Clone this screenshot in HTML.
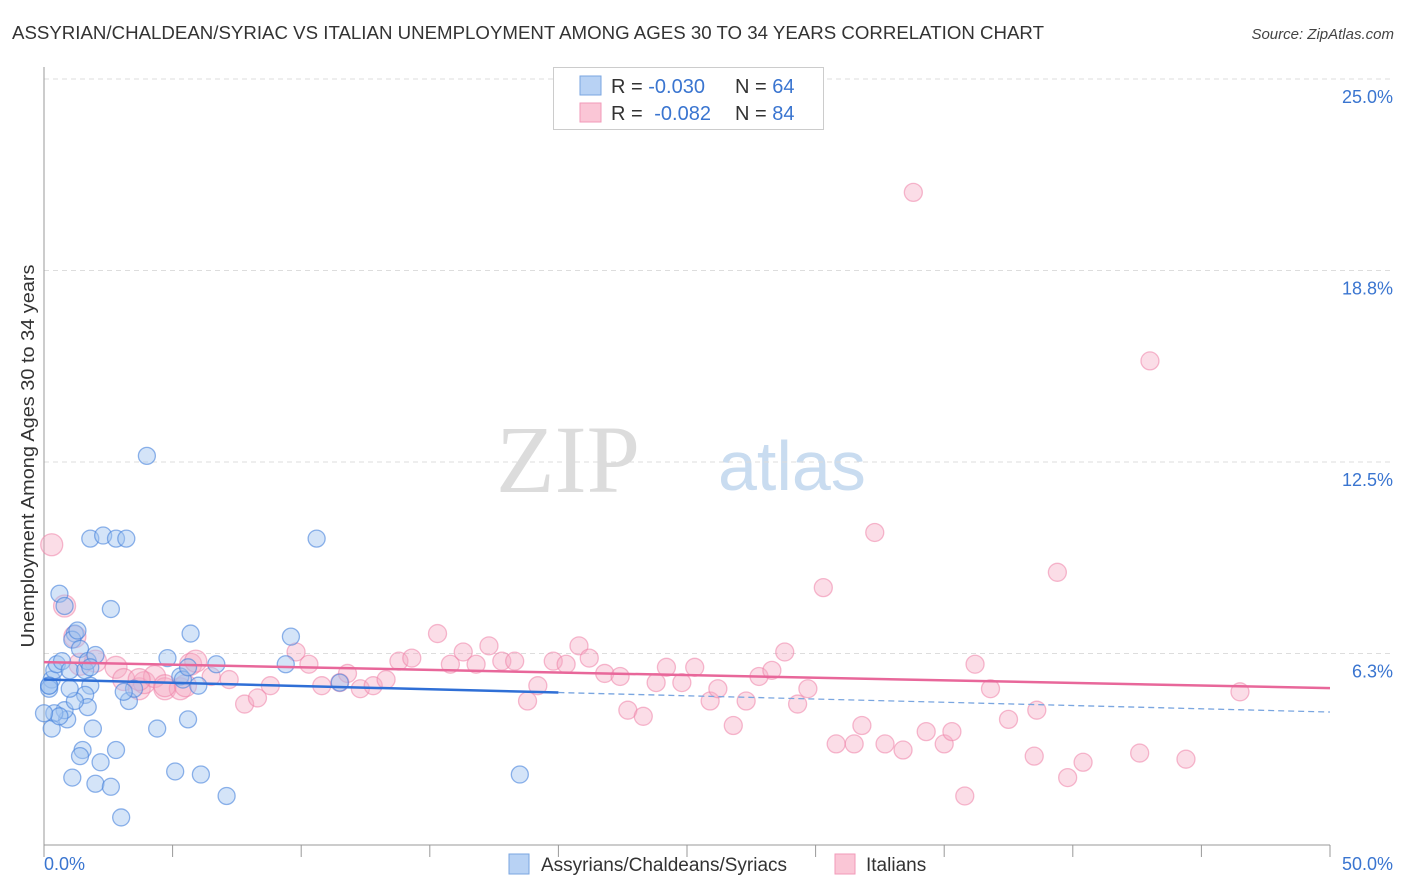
<!DOCTYPE html>
<html><head><meta charset="utf-8">
<style>
body{margin:0;background:#fff;width:1406px;height:892px;overflow:hidden;font-family:"Liberation Sans",sans-serif;}
svg{display:block}
</style></head>
<body>
<svg id="chart" width="1406" height="892" xmlns="http://www.w3.org/2000/svg">
<text x="12" y="39" font-size="18" fill="#333" textLength="1032" lengthAdjust="spacingAndGlyphs">ASSYRIAN/CHALDEAN/SYRIAC VS ITALIAN UNEMPLOYMENT AMONG AGES 30 TO 34 YEARS CORRELATION CHART</text>
<text x="1394" y="39" font-size="15" font-style="italic" fill="#444" text-anchor="end">Source: ZipAtlas.com</text>
<text x="640" y="492" font-size="96" font-family="Liberation Serif,serif" fill="#dcdcdc" text-anchor="end">ZIP</text>
<text x="718" y="490" font-size="70" fill="#c9dcf0">atlas</text>
<text transform="translate(34,456) rotate(-90)" font-size="18" fill="#333" text-anchor="middle" textLength="383" lengthAdjust="spacingAndGlyphs">Unemployment Among Ages 30 to 34 years</text>
<g id="grid"></g>
<g id="axes"></g>
<g id="pts"></g>
<g id="trend"></g>
<g>
<rect x="553.5" y="67.5" width="270" height="62" fill="#fff" stroke="#ccc"/>
<rect x="580" y="76" width="21" height="19" fill="#b8d2f4" stroke="#7aa6e0"/>
<rect x="580" y="103" width="21" height="19" fill="#fac6d6" stroke="#f29ab8"/>
<text x="611" y="93" font-size="20" fill="#333">R = <tspan fill="#3a75d0">-0.030</tspan><tspan x="735">N = </tspan><tspan fill="#3a75d0">64</tspan></text>
<text x="611" y="120" font-size="20" fill="#333">R = <tspan fill="#3a75d0" dx="6">-0.082</tspan><tspan x="735">N = </tspan><tspan fill="#3a75d0">84</tspan></text>
</g>
<g>
<rect x="509" y="854" width="20" height="20" fill="#b8d2f4" stroke="#7aa6e0"/>
<text x="541" y="871" font-size="19" fill="#333">Assyrians/Chaldeans/Syriacs</text>
<rect x="835" y="854" width="20" height="20" fill="#fac6d6" stroke="#f29ab8"/>
<text x="866" y="871" font-size="19" fill="#333">Italians</text>
</g>
</svg>
<script>
const yTicks=[6.25,12.5,18.75,25];
const yTickLabels=["6.3%","12.5%","18.8%","25.0%"];
const xTickLabels=["0.0%","50.0%"];
const blueX=[0.2,0.3,0.2,0.4,0.5,0.7,0.6,0.8,1.0,1.2,1.1,1.3,1.4,1.6,1.7,1.8,2.0,1.6,1.7,1.9,0.9,0.8,0.4,0.3,0.6,1.2,1.5,1.4,2.2,1.1,2.0,2.6,3.0,2.6,1.8,2.3,2.8,3.2,4.0,3.3,3.5,4.4,4.8,5.3,5.4,5.6,5.7,5.6,6.0,6.7,5.1,6.1,7.1,9.4,9.6,10.6,11.5,18.5,2.8,0.0,0.2,3.1,1.8,1.0];
const blueY=[5.2,5.4,5.1,5.7,5.9,6.0,8.2,7.8,5.7,6.9,6.7,7.0,6.4,5.7,6.0,5.2,6.2,4.9,4.5,3.8,4.1,4.4,4.3,3.8,4.2,4.7,3.1,2.9,2.7,2.2,2.0,1.9,0.9,7.7,10.0,10.1,10.0,10.0,12.7,4.7,5.1,3.8,6.1,5.5,5.4,5.8,6.9,4.1,5.2,5.9,2.4,2.3,1.6,5.9,6.8,10.0,5.3,2.3,3.1,4.3,5.2,5.0,5.8,5.1];
const pinkX=[0.3,0.8,1.2,1.4,2.0,2.8,3.1,3.7,3.9,4.3,4.7,5.3,5.7,5.9,6.5,7.2,7.8,8.3,8.8,9.8,10.3,10.8,11.5,11.8,12.3,12.8,13.3,13.8,14.3,15.3,15.8,16.3,16.8,17.3,17.8,18.3,18.8,19.2,19.8,20.3,20.8,21.2,21.8,22.4,22.7,23.3,23.8,24.2,24.8,25.3,25.9,26.2,26.8,27.3,27.8,28.3,28.8,29.3,29.7,30.3,30.8,31.5,31.8,32.3,32.7,33.4,33.8,34.3,35.0,35.3,35.8,36.2,36.8,37.5,38.5,38.6,39.4,39.8,40.4,42.6,43.0,44.4,46.5,3.7,4.7,5.5];
const pinkY=[9.8,7.8,6.8,5.9,6.0,5.8,5.4,5.1,5.3,5.5,5.1,5.1,5.9,6.0,5.5,5.4,4.6,4.8,5.2,6.3,5.9,5.2,5.3,5.6,5.1,5.2,5.4,6.0,6.1,6.9,5.9,6.3,5.9,6.5,6.0,6.0,4.7,5.2,6.0,5.9,6.5,6.1,5.6,5.5,4.4,4.2,5.3,5.8,5.3,5.8,4.7,5.1,3.9,4.7,5.5,5.7,6.3,4.6,5.1,8.4,3.3,3.3,3.9,10.2,3.3,3.1,21.3,3.7,3.3,3.7,1.6,5.9,5.1,4.1,2.9,4.4,8.9,2.2,2.7,3.0,15.8,2.8,5.0,5.4,5.2,5.2];
const blueTrend=[5.4,4.34], pinkTrend=[5.97,5.12];
const X0=44,X1=1330,Y0=845,Y1=79;
const sx=v=>X0+(v/50)*(X1-X0);
const sy=v=>Y0-(v/25)*(Y0-Y1);
const NS="http://www.w3.org/2000/svg";
function mk(tag,attrs,parent){const e=document.createElementNS(NS,tag);for(const k in attrs)e.setAttribute(k,attrs[k]);parent.appendChild(e);return e;}
const grid=document.getElementById('grid'),axes=document.getElementById('axes'),pts=document.getElementById('pts'),tr=document.getElementById('trend');
yTicks.forEach((t,i)=>{
  const l=mk('line',{x1:X0,x2:1393,y1:sy(t),y2:sy(t),stroke:'#ddd','stroke-dasharray':'5,4'},grid);
  
  
  const tx=mk('text',{x:1393,y:sy(t)+24,'font-size':18,fill:'#3a75d0','text-anchor':'end'},grid);
  tx.textContent=yTickLabels[i];
  
  
});
const ya=mk('line',{x1:X0,x2:X0,y1:67,y2:Y0,stroke:'#999'},axes);


const xa=mk('line',{x1:X0,x2:X1,y1:Y0,y2:Y0,stroke:'#999'},axes);


for(let i=0;i<=10;i++){
  const t=mk('line',{x1:sx(i*5),x2:sx(i*5),y1:Y0,y2:Y0+12,stroke:'#999'},axes);
  
  
}
[[0,'start',X0],[50,'end',1393]].forEach((d,i)=>{
  const t=mk('text',{x:d[2],y:870,'font-size':18,fill:'#3a75d0','text-anchor':d[1]},axes);
  t.textContent=xTickLabels[i];
  
  
});
pinkX.forEach((x,i)=>{
  const r=x<6?11:9;
  const c=mk('circle',{cx:sx(x),cy:sy(pinkY[i]),r:r,fill:'rgba(246,170,196,0.4)',stroke:'rgba(238,130,168,0.55)','stroke-width':1.3},pts);
  
  
});
blueX.forEach((x,i)=>{
  const c=mk('circle',{cx:sx(x),cy:sy(blueY[i]),r:8.5,fill:'rgba(160,196,240,0.45)',stroke:'rgba(70,130,220,0.6)','stroke-width':1.3},pts);
  
  
});
const bAt=x=>blueTrend[0]+(blueTrend[1]-blueTrend[0])*x/50;
const b1=mk('line',{x1:sx(0),y1:sy(bAt(0)),x2:sx(20),y2:sy(bAt(20)),stroke:'#2f6fd6','stroke-width':2.5},tr);


const b2=mk('line',{x1:sx(20),y1:sy(bAt(20)),x2:sx(50),y2:sy(bAt(50)),stroke:'#7aa6e0','stroke-width':1.3,'stroke-dasharray':'6,4'},tr);


const p1=mk('line',{x1:sx(0),y1:sy(pinkTrend[0]),x2:sx(50),y2:sy(pinkTrend[1]),stroke:'#e8679a','stroke-width':2.5},tr);


</script>
</body></html>
